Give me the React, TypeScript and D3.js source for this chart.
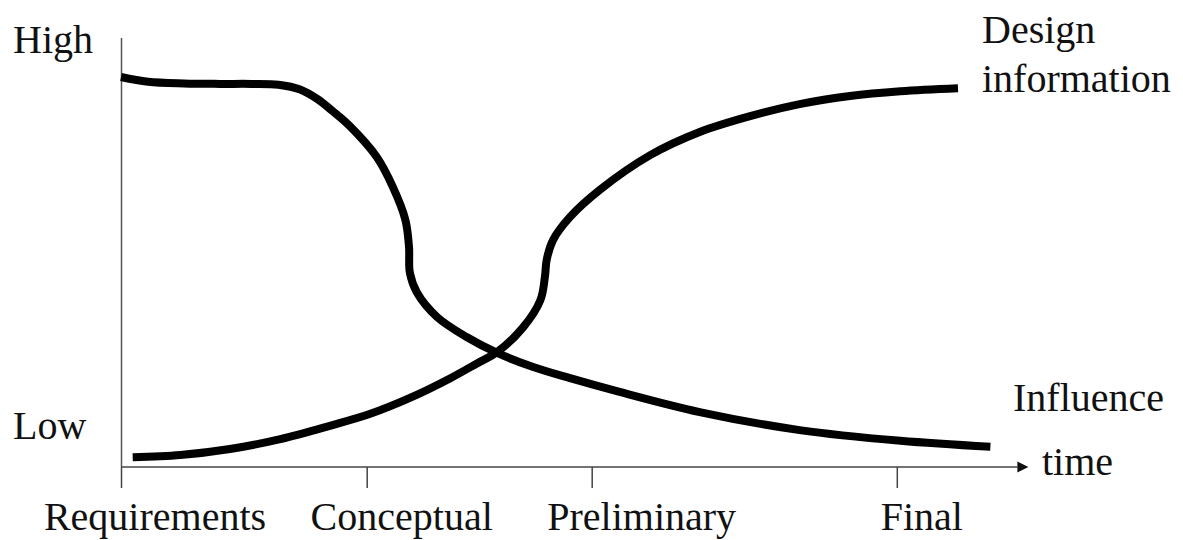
import React from "react";
import * as d3 from "d3";

// ---- data (time units 0..100 along the axis, level 0..100 up the axis) ----
const influenceTime = [0, 3.0, 7.0, 11.0, 14.5, 17.5, 19.9, 21.8, 23.6, 25.4, 28.4, 30.2, 31.6, 32.0, 32.1, 32.9, 35.1, 38.4, 41.8, 45.8, 49.9, 55.4, 64.3, 75.4, 86.6, 96.6];
const influenceLevel = [90.9, 89.8, 89.4, 89.3, 89.3, 89.1, 88.0, 85.8, 82.8, 79.5, 72.3, 65.3, 57.6, 51.3, 45.2, 40.6, 35.0, 30.3, 26.6, 23.3, 20.7, 17.5, 12.8, 8.6, 6.1, 4.7];

const designTime = [1.3, 6.6, 12.1, 17.7, 23.2, 27.7, 32.1, 36.6, 39.6, 41.8, 44.7, 46.6, 47.1, 47.3, 48.0, 49.9, 53.2, 58.8, 64.3, 69.9, 75.4, 81.0, 86.6, 93.0];
const designLevel = [2.3, 2.8, 4.2, 6.5, 9.6, 12.4, 16.1, 20.7, 24.2, 26.8, 32.6, 38.9, 44.3, 48.3, 52.9, 58.3, 64.6, 72.7, 78.1, 81.8, 84.6, 86.5, 87.6, 88.3];

const phaseLabels = ["Requirements", "Conceptual", "Preliminary", "Final"];
const phaseTimes = [0, 27.3, 52.3, 86.2];

const yLabelHigh = "High";
const yLabelLow = "Low";
const xAxisLabel = "time";
const seriesLabels = ["Design", "information", "Influence"];

// ---- layout ----
const W = 1183;
const H = 540;
const textStyle: React.CSSProperties = {
  fontFamily: '"Liberation Serif", "Times New Roman", Times, "DejaVu Serif", serif',
  fontSize: "40px",
};

export default function App() {
  const x = d3.scaleLinear().domain([0, 100]).range([121, 1021]);
  const y = d3.scaleLinear().domain([0, 100]).range([467, 38]);

  const line = d3
    .line<[number, number]>()
    .x((d) => x(d[0]))
    .y((d) => y(d[1]))
    .curve(d3.curveCatmullRom.alpha(0.5));

  const influence = influenceTime.map((t, i) => [t, influenceLevel[i]] as [number, number]);
  const design = designTime.map((t, i) => [t, designLevel[i]] as [number, number]);

  const axisEnd = x(99.6);
  const y0 = y(0);
  const labelShift = [34, 35, 50, 25];

  return (
    <svg
      width={W}
      height={H}
      style={{ position: "absolute", left: 0, top: 0, background: "#fff" }}
    >
      <rect x={0} y={0} width={W} height={H} fill="#fff" />
      {/* y axis */}
      <line x1={x(0) + 0.5} x2={x(0) + 0.5} y1={y(100)} y2={y0} stroke="#555" strokeWidth={1.5} />
      {/* x axis */}
      <line x1={x(0)} x2={axisEnd} y1={y0} y2={y0} stroke="#444" strokeWidth={1.5} />
      <path
        d={`M${axisEnd},${y0 - 5.5} L${axisEnd + 11},${y0} L${axisEnd},${y0 + 5.5} Z`}
        fill="#111"
      />
      {/* ticks */}
      {phaseTimes.map((t, i) => (
        <line key={"t" + i} x1={x(t) + 0.5} x2={x(t) + 0.5} y1={y0} y2={y0 + 21} stroke="#444" strokeWidth={1.5} />
      ))}
      {phaseLabels.map((lab, i) => (
        <text key={"l" + i} x={x(phaseTimes[i]) + labelShift[i]} y={530} textAnchor="middle" fill="#111" style={textStyle}>
          {lab}
        </text>
      ))}
      {/* curves */}
      <path d={line(influence) || ""} fill="none" stroke="#000" strokeWidth={8} strokeLinecap="butt" strokeLinejoin="round" />
      <path d={line(design) || ""} fill="none" stroke="#000" strokeWidth={8} strokeLinecap="butt" strokeLinejoin="round" />
      {/* labels */}
      <text x={13} y={53} fill="#111" style={textStyle}>{yLabelHigh}</text>
      <text x={13} y={439} fill="#111" style={textStyle}>{yLabelLow}</text>
      <text x={1042} y={475} fill="#111" style={textStyle}>{xAxisLabel}</text>
      <text x={982} y={43} fill="#111" style={textStyle}>{seriesLabels[0]}</text>
      <text x={982} y={92} fill="#111" style={textStyle}>{seriesLabels[1]}</text>
      <text x={1013} y={411} fill="#111" style={textStyle}>{seriesLabels[2]}</text>
    </svg>
  );
}
